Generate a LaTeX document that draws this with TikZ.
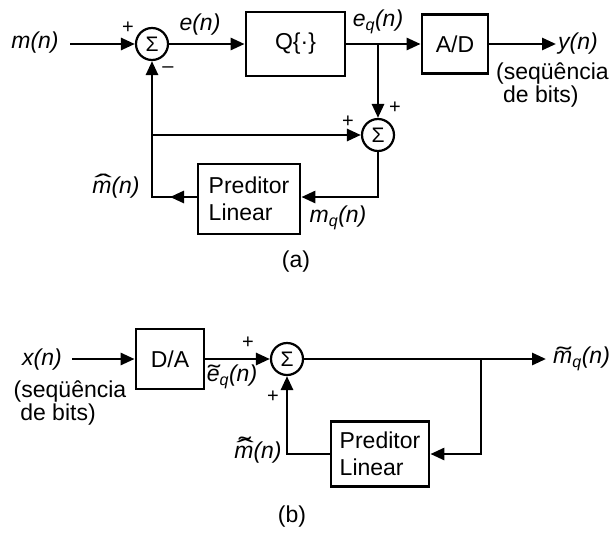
\documentclass[tikz,border=0pt]{standalone}
\usepackage{fontspec}
\usepackage{graphicx}
\setmainfont{Liberation Sans}
\usetikzlibrary{arrows.meta}
\newcommand\ovl[3]{\makebox[0pt][l]{\hspace{#1}#2}#3}
\newcommand\hatg{\raisebox{0.03em}{\scalebox{2.3}[1.1]{ˆ}}}
\newcommand\tilg{\scalebox{1.6}[1]{˜}}
\newcommand\mhat{\ovl{0.1em}{\hatg}{\textit{m}}}
\newcommand\mhatt{\ovl{0.1em}{\hatg}{\ovl{0.2em}{\raisebox{0.24em}{\tilg}}{\textit{m}}}}
\newcommand\etil{\ovl{0.06em}{\tilg}{\textit{e}}}
\newcommand\mtil{\ovl{0.16em}{\scalebox{1.9}[1]{˜}}{\textit{m}}}
\begin{document}
\begin{tikzpicture}[x=1pt,y=-1pt,
  every node/.style={font=\fontsize{23}{27}\selectfont},
  blk/.style={draw, line width=2.8pt, inner sep=0, align=left},
  sumnode/.style={draw, circle, line width=2.2pt, minimum size=32pt, inner sep=0, font=\fontsize{21}{22}\selectfont},
  conn/.style={line width=2.8pt},
  arr/.style={conn, -{Triangle[length=14pt,width=12pt]}},
  lbl/.style={inner sep=0},
  sgn/.style={inner sep=0, font=\fontsize{20}{22}\selectfont}]
\useasboundingbox (0,0) rectangle (615,533);
% ---------- (a) ----------
\node[sumnode] (s1) at (152,44) {Σ};
\node[blk, minimum width=99pt, minimum height=64pt] (Q) at (295.5,44) {Q\{·\}};
\node[blk, minimum width=66pt, minimum height=59pt] (AD) at (455,44) {A/D};
\node[sumnode] (s2) at (378,135) {Σ};
\node[blk, minimum width=102pt, minimum height=70pt] (P1) at (249,199) {Preditor\\Linear};
\coordinate (in1) at (70,44);
\coordinate (b1) at (378,44);
\coordinate (yout) at (556,44);
\coordinate (c1) at (152,197);
\coordinate (c1a) at (170,197);
\coordinate (j1) at (152,135);
\coordinate (c2) at (378,197);
\draw[arr] (in1) -- (s1.west);
\draw[arr] (s1.east) -- (Q.west);
\draw[arr] (Q.east) -- (AD.west);
\draw[arr] (b1) -- (s2.north);
\draw[arr] (AD.east) -- (yout);
\draw[arr] (s2.south) -- (c2) -- (c2 -| P1.east);
\draw[arr] (P1.west |- c1) -- (c1) -- (s1.south);
\draw[arr] (P1.west |- c1) -- (c1a);
\draw[arr] (j1) -- (s2.west);
\node[lbl] (lm) at (35,43) {\itshape m(n)};
\node[lbl] (le) at (200,25) {\itshape e(n)};
\node[lbl] (leq) at (378,22) {\itshape e\textsubscript{q}(n)};
\node[lbl, anchor=west] (ly) at (558,44) {\itshape y(n)};
\node[lbl, anchor=west] (ls1) at (496,74) {(seqüência};
\node[lbl, anchor=west] (ls2) at (503,97) {de bits)};
\node[lbl] (lmh) at (116,186) {\mhat\itshape(n)};
\node[lbl] (lmq) at (338,218) {\itshape m\textsubscript{q}(n)};
\node[sgn] (p1) at (128,28) {+};
\node[sgn] (m1) at (168,70) {–};
\node[sgn] (p2) at (395,108) {+};
\node[sgn] (p3) at (348,122) {+};
\node[lbl] (la) at (296,262) {(a)};
% ---------- (b) ----------
\node[blk, minimum width=68pt, minimum height=60pt] (DA) at (170,359) {D/A};
\node[sumnode] (s3) at (287,359) {Σ};
\node[blk, minimum width=98pt, minimum height=65pt] (P2) at (380,454) {Preditor\\Linear};
\coordinate (in2) at (72,359);
\coordinate (out2) at (546,359);
\coordinate (b2) at (481,359);
\coordinate (c3) at (287,454);
\coordinate (c4) at (481,454);
\draw[arr] (in2) -- (DA.west);
\draw[arr] (DA.east) -- (s3.west);
\draw[arr] (s3.east) -- (out2);
\draw[arr] (b2) -- (c4) -- (P2.east);
\draw[arr] (P2.west) -- (c3) -- (s3.south);
\node[lbl] (lx) at (42,360) {\itshape x(n)};
\node[lbl] (ls3) at (70,392) {(seqüência};
\node[lbl] (ls4) at (58,415) {de bits)};
\node[lbl] (let) at (232,377) {\etil\itshape\textsubscript{q}(n)};
\node[lbl] (lmt) at (258,450) {\mhatt\itshape(n)};
\node[lbl, anchor=west] (lmo) at (553,359) {\mtil\itshape\textsubscript{q}(n)};
\node[sgn] (p4) at (248,343) {+};
\node[sgn] (p5) at (273,397) {+};
\node[lbl] (lb) at (292,517) {(b)};
\end{tikzpicture}
\end{document}
